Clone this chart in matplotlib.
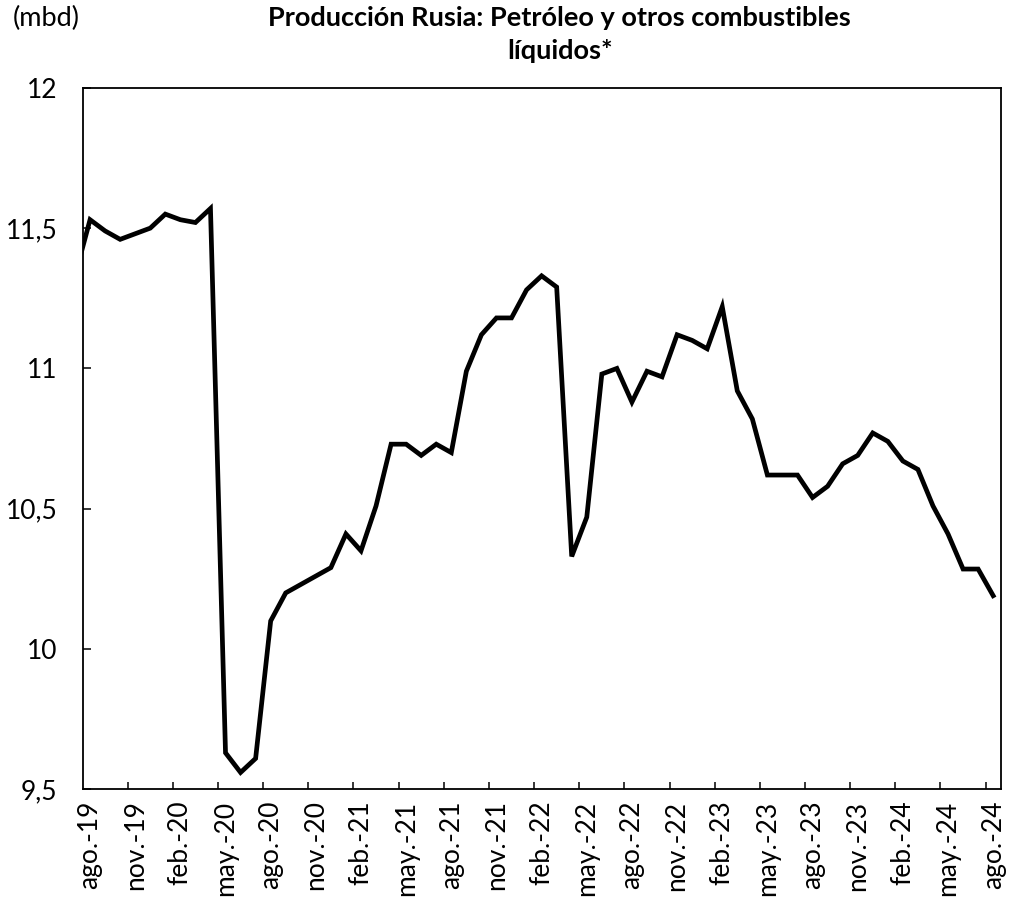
import matplotlib
matplotlib.use("Agg")
import numpy as np
import matplotlib.pyplot as plt
from matplotlib.ticker import FuncFormatter, FixedLocator

plt.rcParams['font.family'] = ['Lato', 'DejaVu Sans']

# months from jul-19 (clipped at the left edge) to ago-24
start_label = 'jul.-19'
values = [11.33,
          11.53, 11.49, 11.46, 11.48, 11.50, 11.55, 11.53, 11.52, 11.57, 9.63,
          9.56, 9.61, 10.10, 10.20, 10.23, 10.26, 10.29, 10.41, 10.35, 10.51,
          10.73, 10.73, 10.69, 10.73, 10.70, 10.99, 11.12, 11.18, 11.18, 11.28,
          11.33, 11.29, 10.33, 10.47, 10.98, 11.00, 10.88, 10.99, 10.97, 11.12,
          11.10, 11.07, 11.22, 10.92, 10.82, 10.62, 10.62, 10.62, 10.54, 10.58,
          10.66, 10.69, 10.77, 10.74, 10.67, 10.64, 10.51, 10.41, 10.285, 10.285,
          10.19]

tick_labels = ['ago.-19', 'nov.-19', 'feb.-20', 'may.-20', 'ago.-20', 'nov.-20',
               'feb.-21', 'may.-21', 'ago.-21', 'nov.-21', 'feb.-22', 'may.-22',
               'ago.-22', 'nov.-22', 'feb.-23', 'may.-23', 'ago.-23', 'nov.-23',
               'feb.-24', 'may.-24', 'ago.-24']

x = np.arange(len(values)) - 1  # ago-19 -> 0

fig = plt.figure(figsize=(10.29, 9), dpi=100)
ax = fig.add_axes([0.0802, 0.123, 0.8923, 0.7794])

ax.plot(x, values, color='black', lw=3.4, solid_joinstyle='miter')
ax.set_xlim(-0.5, 60.5)
ax.set_ylim(9.5, 12)

ax.xaxis.set_major_locator(FixedLocator(np.arange(0, 61, 3)))
ax.set_xticklabels(tick_labels, rotation=90, fontsize=19)
ax.xaxis.set_minor_locator(FixedLocator(np.arange(2.5, 60, 3)))
ax.tick_params(axis='x', which='major', length=0, pad=8)
ax.tick_params(axis='x', which='minor', direction='in', length=5, width=1.1)

ax.set_yticks([9.5, 10, 10.5, 11, 11.5, 12])
ax.yaxis.set_major_formatter(FuncFormatter(lambda v, p: ('%g' % v).replace('.', ',')))
ax.tick_params(axis='y', direction='in', length=6, width=1.1, labelsize=19, pad=18)

for s in ax.spines.values():
    s.set_linewidth(1.3)
    s.set_color('black')

fig.text(0.544, 0.993, 'Producción Rusia: Petróleo y otros combustibles\nlíquidos*',
         ha='center', va='top', fontsize=19.5, fontweight='bold', linespacing=1.45)
fig.text(0.012, 0.993, '(mbd)', ha='left', va='top', fontsize=19.5)

fig.savefig('out.png', dpi=100)
